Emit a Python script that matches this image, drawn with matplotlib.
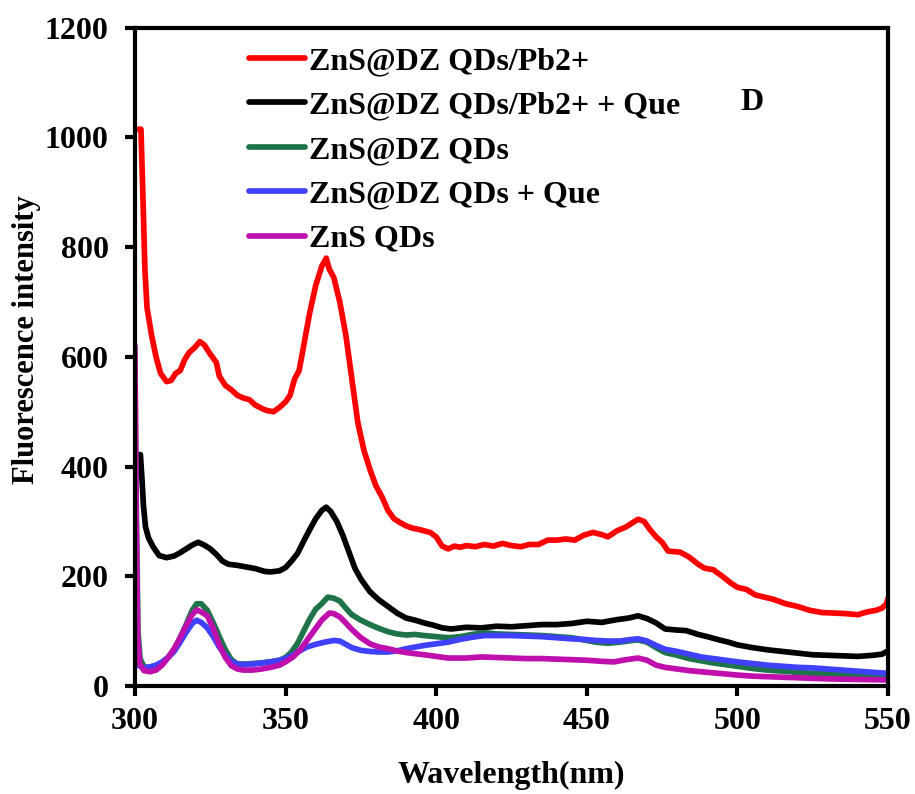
import matplotlib
matplotlib.use("Agg")
from matplotlib import pyplot as plt

plt.rcParams['font.family'] = ['Liberation Serif', 'DejaVu Serif']
plt.rcParams['font.weight'] = 'bold'

## emission spectra (wavelength in nm, intensity in a.u.)
wl_pb = [300, 302, 302.6, 303.3, 304, 305.5, 307, 308.5, 310.5, 312, 313.5, 315, 316.5, 318, 320, 321.5,
         323, 325, 327, 328, 330, 332, 334, 336, 338, 340, 342.5, 344, 346, 348, 350, 351.5, 353, 354.5,
         356, 358, 360, 362, 363.5, 364.5, 366, 368, 370, 372, 374, 376, 378, 380, 382, 384, 386, 388,
         390, 392, 394.6, 398, 400, 402, 404, 406, 408, 410, 413, 416, 419, 422, 425, 428, 431, 434, 437,
         440, 443, 446, 449, 452, 455, 457, 460, 463, 465, 467, 469, 471, 473, 475, 477, 479, 481, 484,
         487, 489, 492, 495, 498, 500, 503, 506, 509, 512, 516, 520, 524, 528, 532, 536, 540, 543, 546,
         548, 549.5, 550]
int_pb = [1015, 1015, 900, 760, 690, 640, 600, 570, 555, 557, 570, 575, 595, 608, 618, 628,
          622, 605, 590, 565, 548, 540, 530, 525, 522, 512, 505, 502, 500, 508, 518, 530, 560, 575,
          620, 680, 730, 765, 780, 760, 745, 700, 640, 560, 480, 430, 395, 365, 345, 320, 305, 298,
          292, 288, 285, 280, 272, 255, 250, 255, 253, 256, 254, 258, 255, 260, 256, 254, 258, 258, 266,
          266, 268, 266, 275, 280, 276, 272, 283, 290, 297, 304, 300, 285, 272, 262, 246, 245, 244, 235,
          222, 215, 212, 200, 187, 180, 176, 166, 162, 158, 150, 145, 138, 134, 133, 132, 130, 135, 138,
          142, 150, 160]

wl_pb_que = [300, 301.8, 302.3, 302.8, 303.5, 304.5, 306, 308, 310.5, 313, 315, 317, 319, 321, 323, 325,
             327, 329, 331, 334, 337, 340, 343, 345, 348, 350, 352, 354, 356, 358, 360, 362, 363.5, 365,
             367, 369, 371, 373, 375, 378, 381, 384, 387, 390, 393, 396, 399, 402, 405, 410, 415, 420,
             425, 430, 435, 440, 445, 450, 455, 460, 464, 467, 470, 473, 476, 480, 483, 487, 490, 494,
             497, 500, 505, 510, 515, 520, 525, 530, 535, 540, 545, 548, 550]
int_pb_que = [420, 422, 380, 330, 290, 270, 254, 238, 234, 237, 243, 250, 257, 262, 257, 250,
              240, 228, 222, 220, 217, 214, 209, 208, 210, 216, 228, 242, 264, 285, 305, 320, 326, 318,
              300, 275, 245, 215, 195, 172, 157, 145, 133, 124, 120, 115, 111, 106, 104, 107, 106, 109,
              108, 110, 112, 112, 114, 118, 116, 121, 124, 128, 123, 115, 104, 102, 101, 94, 90, 84,
              80, 75, 70, 66, 63, 60, 57, 56, 55, 54, 56, 58, 64]

wl_dz = [300, 300.5, 301, 301.7, 303, 305, 307, 309, 311, 313, 315, 317, 319, 320.5, 322, 324, 326, 328,
         330, 332, 334, 336, 339, 342, 345, 348, 350, 352, 354, 356, 358, 360, 362, 364, 366, 368, 370,
         372, 375, 378, 381, 384, 387, 390, 393, 396, 400, 404, 408, 412, 416, 420, 425, 430, 435, 440,
         445, 449, 453, 457, 461, 465, 467, 470, 473, 476, 480, 484, 488, 492, 496, 500, 505, 510, 515,
         520, 525, 530, 535, 540, 545, 550]
int_dz = [560, 300, 100, 50, 35, 33, 35, 42, 52, 65, 88, 112, 138, 150, 150, 138, 115, 90,
          66, 48, 40, 40, 41, 42, 44, 47, 52, 62, 78, 100, 122, 140, 150, 162, 160, 155, 142,
          130, 120, 112, 105, 99, 95, 93, 94, 92, 90, 88, 90, 94, 97, 95, 94, 93, 92, 90,
          88, 84, 80, 78, 80, 83, 84, 80, 70, 61, 56, 50, 46, 42, 39, 36, 32, 29, 27,
          25, 23, 22, 20, 19, 17, 16]

wl_dz_que = [300, 300.5, 301, 303, 305, 307, 309, 311, 313, 315, 317, 319, 320.5, 322, 324, 326, 328,
             330, 332, 334, 336, 339, 342, 345, 348, 350, 352.5, 355, 357, 360, 363, 366, 368, 370, 372,
             375, 378, 381, 384, 387, 390, 393, 396, 400, 404, 408, 412, 416, 420, 425, 430, 435, 440,
             445, 449, 453, 457, 461, 465, 467, 470, 473, 476, 480, 484, 488, 492, 496, 500, 505, 510,
             515, 520, 525, 530, 535, 540, 545, 550]
int_dz_que = [110, 60, 38, 33, 35, 38, 44, 52, 63, 80, 98, 114, 120, 116, 106, 90, 71,
              56, 44, 40, 39, 40, 42, 44, 47, 50, 57, 65, 71, 76, 80, 83, 82, 76, 70,
              65, 63, 62, 62, 64, 68, 71, 74, 77, 80, 85, 89, 92, 92, 92, 91, 90, 88,
              86, 85, 83, 82, 82, 85, 86, 82, 74, 67, 63, 58, 53, 50, 47, 44, 41, 38,
              36, 34, 33, 31, 29, 27, 25, 23]

wl_zns = [300, 300.4, 300.9, 301.6, 303, 305, 307, 309, 311, 313, 315, 317, 319, 320.5, 322, 324, 326,
          328, 330, 332, 334, 336, 339, 342, 345, 348, 350, 352.5, 355, 358, 360, 362, 364.5, 366, 368,
          370, 372, 375, 378, 381, 384, 387, 390, 393, 396, 400, 404, 410, 415, 420, 425, 430, 435, 440,
          445, 450, 455, 459, 463, 467, 470, 473, 476, 480, 484, 488, 492, 496, 500, 505, 510, 515, 520,
          525, 530, 540, 550]
int_zns = [620, 300, 90, 40, 28, 26, 29, 38, 52, 68, 88, 110, 130, 139, 135, 128, 105,
           75, 52, 37, 31, 29, 29, 31, 34, 38, 44, 53, 67, 90, 105, 120, 133, 132, 126,
           115, 103, 88, 77, 71, 68, 64, 61, 59, 57, 54, 51, 51, 53, 52, 51, 50, 50, 49,
           48, 47, 45, 44, 48, 51, 47, 38, 34, 31, 28, 26, 24, 22, 20, 18, 17, 16, 15,
           14, 13, 12, 11]

series = [
    (wl_pb, int_pb, '#FF0000', 'ZnS@DZ QDs/Pb2+'),
    (wl_pb_que, int_pb_que, '#000000', 'ZnS@DZ QDs/Pb2+ + Que'),
    (wl_dz, int_dz, '#1E7448', 'ZnS@DZ QDs'),
    (wl_dz_que, int_dz_que, '#4040FF', 'ZnS@DZ QDs + Que'),
    (wl_zns, int_zns, '#BF10AE', 'ZnS QDs'),
]

fig = plt.figure(figsize=(9.15, 7.94), dpi=100)
ax = fig.add_axes([0.1475, 0.136, 0.823, 0.829])

for x, y, col, lab in series:
    ax.plot(x, y, color=col, lw=4.1, label=lab, solid_capstyle='round')

ax.set_xlim(300, 550)
ax.set_ylim(0, 1200)
ax.set_xticks(range(300, 551, 50))
ax.set_yticks(range(0, 1201, 200))

for s in ax.spines.values():
    s.set_linewidth(3)
ax.tick_params(axis='both', direction='out', length=7, width=3, labelsize=23)
ax.tick_params(axis='y', pad=12)
ax.tick_params(axis='x', pad=8)

ax.set_xlabel('Wavelength(nm)', fontsize=23, fontweight='bold', labelpad=18)
ax.set_ylabel('Fluorescence intensity', fontsize=22, fontweight='bold')
ax.yaxis.set_label_coords(-0.125, 0.526)

ax.text(0.82, 0.886, 'D', transform=ax.transAxes, fontsize=23, fontweight='bold',
        ha='center', va='center')

leg = ax.legend(loc='upper left', bbox_to_anchor=(0.151, 0.971), frameon=False,
                fontsize=23, handlelength=1.75, handletextpad=0.15, labelspacing=0.47,
                borderpad=0, borderaxespad=0)

fig.savefig('out.png', dpi=100)
